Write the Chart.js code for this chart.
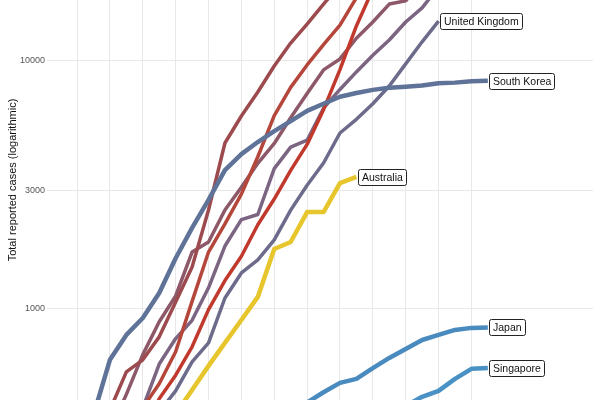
<!DOCTYPE html>
<html>
<head>
<meta charset="utf-8">
<script src="https://cdn.jsdelivr.net/npm/chart.js@4/dist/chart.umd.min.js"></script>
<style>
  html, body { margin: 0; padding: 0; background: #fff; }
  #wrap { width: 600px; height: 400px; }
</style>
</head>
<body>
<div id="wrap"><canvas id="chart" width="600" height="400"></canvas></div>
<script>
// Days since outbreak start (x) and tick positions
const gridDays = [0, 2, 4, 6, 8, 10, 12, 14, 16, 18, 20, 22, 24];
const yTicks = [1000, 3000, 10000];

// Each series: first day with a value, then the daily totals
const southKoreaStart = 1;
const southKorea = [374, 624, 786, 920, 1160, 1600, 2120, 2750, 3620, 4200, 4700, 5200, 5700, 6270, 6700, 7150, 7400, 7620, 7770, 7850, 7930, 8100, 8150, 8250, 8300];
const japanStart = 13;
const japan = [388, 420, 462, 504, 523, 578, 635, 690, 750, 786, 823, 839, 843];
const singaporeStart = 20;
const singapore = [407, 443, 468, 523, 574, 579];
const australiaStart = 6;
const australia = [378, 472, 590, 730, 903, 1118, 1743, 1860, 2455, 2455, 3210, 3400];
const ukStart = 5;
const uk = [385, 468, 612, 730, 1107, 1396, 1575, 1896, 2500, 3150, 3870, 5110, 5800, 6700, 7900, 9700, 11900, 14420];

// unlabelled lines (their labels sit above the visible area)
const otherAStart = 2;
const otherA = [392, 558, 624, 772, 1067, 1476, 2503, 4656, 5980, 7468, 9504, 11762, 14030, 16880, 20130];
const otherBStart = 3;
const otherB = [259, 400, 500, 673, 1073, 1695, 2200, 2900, 4100, 6000, 7800, 9600, 11600, 13900, 17900, 20400];
const otherCStart = 3;
const otherC = [221, 319, 435, 541, 704, 994, 1301, 1630, 2183, 2770, 3613, 4596, 6344, 9197, 13779, 19367];
const otherDStart = 1;
const otherD = [229, 322, 453, 655, 888, 1128, 1694, 1860, 2502, 3089, 3858, 4636, 5883, 7375, 9172, 10149, 12300, 14300, 16880, 17400, 20700];
const otherEStart = 3;
const otherE = [288, 400, 600, 760, 900, 1217, 1792, 2289, 2400, 3672, 4480, 4780, 6430, 7650, 9000, 10500, 12100, 14300, 16300, 19800];

function points(start, values) {
    return values.map((v, i) => ({ x: start + i, y: v }));
}

function series(label, start, values, color, width, endLabel) {
    return {
        label: label,
        data: points(start, values),
        borderColor: color,
        borderWidth: width,
        pointRadius: 0,
        pointHoverRadius: 0,
        fill: false,
        endLabel: endLabel
    };
}

// Boxed labels at the end of the highlighted lines
const endLabels = {
    id: 'endLabels',
    afterDatasetsDraw(chart) {
        const ctx = chart.ctx;
        ctx.save();
        ctx.font = '10.5px "Liberation Sans", Arial, sans-serif';
        ctx.textBaseline = 'middle';
        chart.data.datasets.forEach((ds, i) => {
            if (!ds.endLabel) return;
            const meta = chart.getDatasetMeta(i);
            const pt = meta.data[meta.data.length - 1];
            const w = Math.round(ctx.measureText(ds.label).width + 7);
            const h = 16;
            const x = Math.round(pt.x + 1.5);
            const y = Math.round(pt.y - h / 2);
            ctx.beginPath();
            ctx.roundRect(x + 0.5, y + 0.5, w, h, 2);
            ctx.fillStyle = '#fff';
            ctx.fill();
            ctx.lineWidth = 1;
            ctx.strokeStyle = '#222';
            ctx.stroke();
            ctx.fillStyle = '#111';
            ctx.fillText(ds.label, x + 4, y + h / 2 + 1);
        });
        ctx.restore();
    }
};

// Rotated y axis title
const yTitle = {
    id: 'yTitle',
    afterDraw(chart) {
        const ctx = chart.ctx;
        ctx.save();
        ctx.translate(13, 180);
        ctx.rotate(-Math.PI / 2);
        ctx.font = '11px "Liberation Sans", Arial, sans-serif';
        ctx.fillStyle = '#111';
        ctx.textAlign = 'center';
        ctx.textBaseline = 'middle';
        ctx.fillText('Total reported cases (logarithmic)', 0, 0);
        ctx.restore();
    }
};

const ctx = document.getElementById('chart').getContext('2d');
new Chart(ctx, {
    type: 'line',
    data: {
        datasets: [
            series('South Korea', southKoreaStart, southKorea, '#5f7398', 4.5, true),
            series('Japan', japanStart, japan, '#4a8bbf', 4.5, true),
            series('Singapore', singaporeStart, singapore, '#4a92c5', 4.5, true),
            series('Australia', australiaStart, australia, '#e6c62c', 4.5, true),
            series('United Kingdom', ukStart, uk, '#6c6b8b', 3.5, true),
            series('Other A', otherAStart, otherA, '#9d4a4e', 3.5, false),
            series('Other B', otherBStart, otherB, '#b4463b', 3.5, false),
            series('Other C', otherCStart, otherC, '#c0392c', 3.5, false),
            series('Other D', otherDStart, otherD, '#8d5868', 3.5, false),
            series('Other E', otherEStart, otherE, '#7b6582', 3.5, false)
        ]
    },
    options: {
        responsive: false,
        animation: false,
        layout: { autoPadding: false, padding: { left: 0, right: 7, top: 0, bottom: 0 } },
        plugins: { legend: { display: false }, tooltip: { enabled: false } },
        elements: { line: { tension: 0, borderCapStyle: 'butt', borderJoinStyle: 'round' } },
        scales: {
            x: {
                type: 'linear',
                min: -1.83,
                max: 31.4,
                afterBuildTicks: s => { s.ticks = gridDays.map(v => ({ value: v })); },
                afterFit: s => {
                    s.height = 0;
                    s.paddingLeft = 0; s.paddingRight = 0; s.paddingTop = 0; s.paddingBottom = 0;
                },
                ticks: { display: false },
                grid: { color: '#e8e8e8', lineWidth: 1, drawTicks: false },
                border: { display: false }
            },
            y: {
                type: 'logarithmic',
                min: 430,
                max: 17530,
                afterBuildTicks: s => { s.ticks = yTicks.map(v => ({ value: v })); },
                afterFit: s => {
                    s.width = 47;
                    s.paddingLeft = 0; s.paddingRight = 0; s.paddingTop = 0; s.paddingBottom = 0;
                },
                ticks: {
                    callback: v => String(v),
                    color: '#555',
                    padding: 2,
                    font: { family: '"Liberation Sans", Arial, sans-serif', size: 9 }
                },
                grid: { color: '#e8e8e8', lineWidth: 1, drawTicks: false },
                border: { display: false }
            }
        }
    },
    plugins: [endLabels, yTitle]
});
</script>
</body>
</html>
